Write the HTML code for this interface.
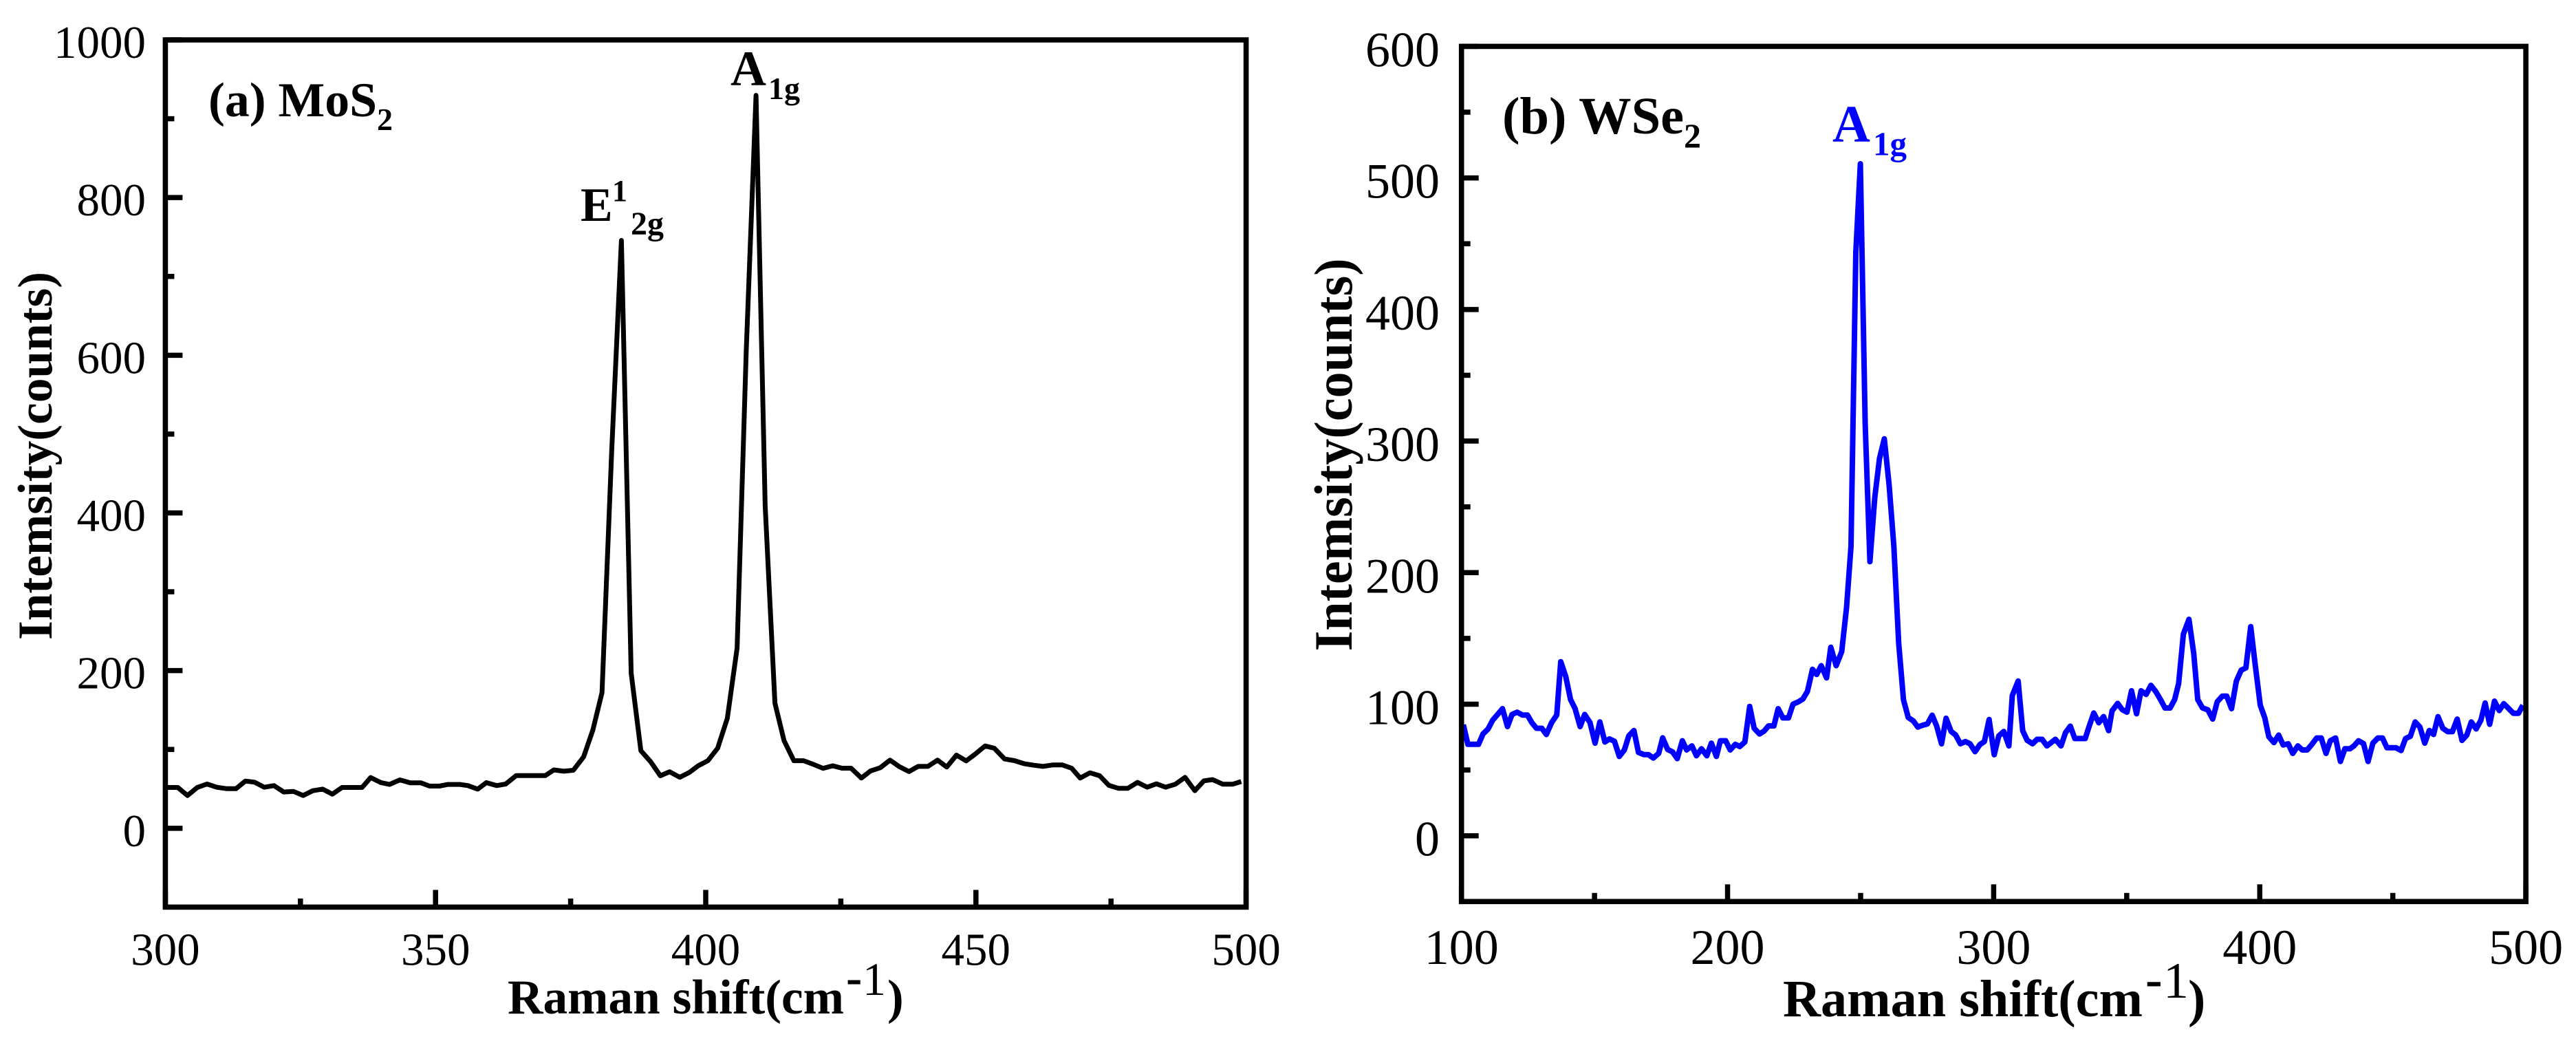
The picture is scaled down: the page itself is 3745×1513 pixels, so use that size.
<!DOCTYPE html>
<html lang="en">
<head>
<meta charset="utf-8">
<title>Raman spectra of MoS2 and WSe2</title>
<style>
html,body{margin:0;padding:0;background:#fff;width:3745px;height:1513px;overflow:hidden}
svg{display:block}
text{font-family:"Liberation Serif","Times New Roman",serif;fill:#000}
.b{font-weight:bold}
.blue{fill:#0000ff}
</style>
</head>
<body>
<svg id="figure" xmlns="http://www.w3.org/2000/svg" width="3745" height="1513" viewBox="0 0 3745 1513">
  <rect x="0" y="0" width="3745" height="1513" fill="#fff"/>
  <g id="panel-a"></g>
  <g id="panel-b"></g>

  <text class="b" font-size="71" transform="translate(75,930) rotate(-90)" textLength="535" lengthAdjust="spacingAndGlyphs">Intemsity(counts)</text>
  <text class="b" font-size="71" x="738" y="1473" textLength="489" lengthAdjust="spacingAndGlyphs">Raman shift(cm</text>
  <text class="b" font-size="70" x="1230" y="1444">-</text>
  <text font-size="68" x="1254" y="1446">1</text>
  <text class="b" font-size="71" x="1290" y="1473">)</text>

  <text class="b" font-size="71" x="303" y="169" textLength="245" lengthAdjust="spacingAndGlyphs">(a) MoS</text>
  <text class="b" font-size="46" x="548" y="189">2</text>
  <text class="b" font-size="70" x="844" y="321">E</text>
  <text class="b" font-size="44" x="890" y="292">1</text>
  <text class="b" font-size="48" x="917" y="341">2g</text>
  <text class="b" font-size="72" x="1062" y="124">A</text>
  <text class="b" font-size="46" x="1117" y="144">1g</text>

  <text class="b" font-size="78" transform="translate(1965,946.4) rotate(-90)" textLength="571" lengthAdjust="spacingAndGlyphs">Intemsity(counts)</text>
  <text class="b" font-size="76" x="2592" y="1477" textLength="523" lengthAdjust="spacingAndGlyphs">Raman shift(cm</text>
  <text class="b" font-size="74" x="3119" y="1448">-</text>
  <text font-size="74" x="3145" y="1450">1</text>
  <text class="b" font-size="76" x="3181" y="1477">)</text>

  <text class="b" font-size="76" x="2184" y="194" textLength="264" lengthAdjust="spacingAndGlyphs">(b) WSe</text>
  <text class="b" font-size="50" x="2448" y="214">2</text>
  <text class="b blue" font-size="76" x="2664" y="205.5">A</text>
  <text class="b blue" font-size="49" x="2723" y="225.5">1g</text>
</svg>
<script>
const mos2Shifts = [300.4,302.3,304.1,305.9,307.7,309.5,311.3,313.1,314.8,316.5,318.3,320.1,321.9,323.7,325.5,327.3,329.1,330.9,332.7,334.6,336.4,338.0,339.9,341.5,343.4,345.3,347.3,348.9,350.7,352.3,354.5,356.0,357.8,359.4,361.3,363.0,364.9,366.7,368.5,370.3,371.9,373.7,375.5,377.4,379.1,380.8,382.6,384.4,386.2,388.0,389.8,391.6,393.3,395.2,397.0,398.6,400.4,402.2,404.0,405.8,407.5,409.3,411.0,412.8,414.5,416.3,418.1,419.9,421.7,423.5,425.2,426.9,428.8,430.5,432.3,434.1,435.8,437.6,439.3,441.1,442.9,444.6,446.4,448.2,449.9,451.7,453.4,455.3,457.1,458.9,460.7,462.4,464.2,466.0,467.7,469.3,471.1,472.9,474.6,476.4,478.1,479.9,481.7,483.4,485.1,486.9,488.7,490.5,492.2,493.8,495.7,497.5,499.1];
const mos2Counts = [51.8,51.8,41.6,51.8,56.1,52,50.3,50.3,59.9,58.5,52,54.1,46,46.8,41.6,47.7,49.7,43.3,51.8,51.8,51.8,64.3,57.9,55.6,61.4,57.6,57.6,53.5,53.5,55.6,55.6,54.1,49.7,57.9,54.1,56.1,66.8,66.8,66.8,66.8,74,72.4,73.6,90.6,124.4,172,479,745.7,196.7,98.4,84.4,66.6,71.7,64.7,71,79.3,85.7,101.5,139.6,228.5,606,929.7,409,158.7,111,85.7,85.7,81.2,76,79.3,76.2,76.2,63.7,72.7,76.8,86.4,78.3,71.9,78.5,78.5,86.4,77.7,92.8,85.5,94.3,104.4,101.5,87.9,85.8,82,80,78.5,80.3,80.3,76.2,63.7,70.4,66.6,54.4,50.6,50.6,58.2,52.1,56.4,52.1,55.9,64.6,47.7,60.2,61.7,55.9,55.9,59.3];
const mos2XTicks = [300,350,400,450,500];
const mos2XMinorTicks = [325,375,425,475];
const mos2YTicks = [0,200,400,600,800,1000];
const mos2YMinorTicks = [100,300,500,700,900];

const wse2Shifts = [100.7,102.4,104.4,106.4,108.1,110,111.7,113.6,115.4,117.3,119,120.9,122.9,124.8,126.5,128.2,130.2,131.9,133.9,135.8,137.3,139.2,141,142.7,144.6,146.3,148.3,150.2,152,153.9,155.6,157.5,159.3,161.2,162.9,164.8,166.5,168.5,170.2,172.1,174.1,175.6,177.5,179.3,181.1,183,184.6,186.6,188.3,190.2,192.2,193.9,195.8,197.3,199.3,201,202.9,204.6,206.5,208.3,210,212,213.7,215.4,217.4,219,220.8,222.9,224.6,226.6,228.3,230,231.9,233.5,235.2,237.2,238.8,240.8,242.9,244.7,246.4,248.2,249.9,251.7,253.5,255.3,257.1,258.9,260.7,262.5,264.3,266.1,267.9,269.8,271.5,273.3,275.1,276.9,278.6,280.4,282.1,284,285.7,287.5,289.4,291.1,293,294.8,296.5,298.3,300.2,301.9,303.8,305.7,307,309.2,310.9,312.6,314.6,316.3,318.2,320,321.7,323.2,325.3,327,328.8,330.5,332.4,334.4,335.9,337.6,339.5,341.3,343.2,344.5,346.6,348.3,350.1,351.8,353.7,355.4,357.3,359.1,360.9,362.7,364.4,366.3,368,369.5,371.3,373.4,375.2,376.7,378.5,380.5,382.3,384,385.9,387.6,389.4,391.2,393,394.8,396.6,398.3,400.2,401.9,403.4,405.3,407.1,408.8,410.7,412.4,414.3,416,417.8,419.6,421.4,423.1,424.9,426.5,428.5,430.3,432,433.9,435.4,437.1,439,440.7,442.5,444.4,446.1,447.8,449.5,451.2,453.1,454.8,456.6,458.4,460.2,462,463.7,465.3,467,468.8,470.6,472.4,474.2,476,477.8,479.5,481.3,483.1,484.7,486.4,488.2,490,491.7,493.6,495.3,497.2,498.9];
const wse2Counts = [84.4,69.5,69.5,69.5,77.4,81.2,87.8,92.2,96.6,83,92.2,93.9,91.7,91.7,85.8,81.7,81.7,77,86.1,91.7,132.3,121,103.5,96.6,83,92.2,86.1,70.4,86.5,71.3,73.6,71.8,60.3,65.2,76,80,63.4,61.7,61.7,59.1,62.6,74.4,65.5,63.8,58.6,72.2,65.2,68.3,60.8,66.1,60.8,70.4,60.3,72.2,72.2,65.2,69.5,67.8,71.3,98.3,81.7,77.4,79.5,83.5,83.5,96.6,89.6,89.6,100,101.8,103.9,109.6,126.5,122.6,129.3,120,143.3,129.3,140,173.3,220,443.5,510.8,313.4,208.3,256.7,286.7,301.7,266.7,220,146.6,103.3,89.9,87.3,82.6,84,85,91.6,83.3,69.9,89.3,79.3,76.6,69.9,71.6,69.9,63.9,69.3,71.6,88.3,61.6,75.9,79.3,68.3,106.6,117.6,79.9,72.6,69.9,73.3,73.3,68.3,70.9,73.3,68.3,78.3,83.3,73.9,73.9,73.9,83.3,93.3,85.9,90.6,79.9,94.9,100.6,95.9,93.9,110.2,92.7,110.2,107.4,114.3,109.6,103.5,97.1,97.1,103.5,115.7,153.2,164.5,138.4,103.5,97.1,95.7,88.7,101.8,106.1,106.1,96.6,117.5,125.8,127.6,159,129.7,99.2,89.6,75.3,70.8,76.5,69,69.9,62.6,68.3,65.2,65.2,69.5,74.3,74.3,62.6,72.2,74.3,56.5,66.1,66.1,68.3,72.2,70.1,56.5,70.4,74.3,74.3,66.9,66.9,66.9,64.8,73.9,75.6,86.5,82.6,70.4,80,77,90.5,81.7,79.1,79.1,88.7,72.5,76.5,86.5,81.2,87.8,100.9,84.7,102.3,95.2,100.4,96.6,93.1,93.1,99.2];
const wse2XTicks = [100,200,300,400,500];
const wse2XMinorTicks = [150,250,350,450];
const wse2YTicks = [0,100,200,300,400,500,600];
const wse2YMinorTicks = [50,150,250,350,450,550];

const SVG_NS = 'http://www.w3.org/2000/svg';

function makeLinear(d0, d1, r0, r1) {
  return function (v) { return r0 + (v - d0) * (r1 - r0) / (d1 - d0); };
}

function drawTickLine(group, x1, y1, x2, y2, width) {
  const tick = document.createElementNS(SVG_NS, 'line');
  
  
  tick.setAttribute('x1', x1);
  tick.setAttribute('y1', y1);
  tick.setAttribute('x2', x2);
  tick.setAttribute('y2', y2);
  tick.setAttribute('stroke', '#000');
  tick.setAttribute('stroke-width', width);
  group.appendChild(tick);
}

function drawTickLabel(group, x, y, size, anchor, label) {
  const text = document.createElementNS(SVG_NS, 'text');
  
  
  text.setAttribute('x', x);
  text.setAttribute('y', y);
  text.setAttribute('font-size', size);
  text.setAttribute('text-anchor', anchor);
  text.textContent = label;
  group.appendChild(text);
}

function drawPanel(group, cfg, shifts, counts, xTicks, xMinor, yTicks, yMinor) {
  const sx = makeLinear(cfg.xMin, cfg.xMax, cfg.left, cfg.right);
  const sy = makeLinear(cfg.yMin, cfg.yMax, cfg.bottom, cfg.top);
  const tw = 7.5;

  yTicks.forEach(function (v) {
    drawTickLine(group, cfg.left, sy(v), cfg.left + 25, sy(v), tw);
    drawTickLabel(group, cfg.yLabelX, sy(v) + cfg.yLabelDy, cfg.fontSize, 'end', String(v));
  });
  yMinor.forEach(function (v) {
    drawTickLine(group, cfg.left, sy(v), cfg.left + 13, sy(v), tw);
  });
  xTicks.forEach(function (v) {
    drawTickLine(group, sx(v), cfg.bottom, sx(v), cfg.bottom - 25, tw);
    drawTickLabel(group, sx(v), cfg.xLabelY, cfg.fontSize, 'middle', String(v));
  });
  xMinor.forEach(function (v) {
    drawTickLine(group, sx(v), cfg.bottom, sx(v), cfg.bottom - 12.5, tw);
  });

  const line = document.createElementNS(SVG_NS, 'polyline');
  
  
  line.setAttribute('fill', 'none');
  line.setAttribute('stroke', cfg.color);
  line.setAttribute('stroke-width', cfg.lineWidth);
  line.setAttribute('stroke-linejoin', 'round');
  line.setAttribute('points', shifts.map(function (s, i) {
    return sx(s).toFixed(1) + ',' + sy(counts[i]).toFixed(1);
  }).join(' '));
  group.appendChild(line);

  const frame = document.createElementNS(SVG_NS, 'rect');
  
  
  frame.setAttribute('x', cfg.left);
  frame.setAttribute('y', cfg.top);
  frame.setAttribute('width', cfg.right - cfg.left);
  frame.setAttribute('height', cfg.bottom - cfg.top);
  frame.setAttribute('fill', 'none');
  frame.setAttribute('stroke', '#000');
  frame.setAttribute('stroke-width', '7.6');
  group.appendChild(frame);
}

drawPanel(document.getElementById('panel-a'), {
  xMin: 300, xMax: 500, yMin: -100, yMax: 1000,
  left: 240.4, right: 1811.6, top: 58, bottom: 1318.4,
  fontSize: 67, yLabelX: 212, yLabelDy: 26, xLabelY: 1402.5,
  color: '#000', lineWidth: 7, lineName: 'mos2-spectrum-line'
}, mos2Shifts, mos2Counts, mos2XTicks, mos2XMinorTicks, mos2YTicks, mos2YMinorTicks);

drawPanel(document.getElementById('panel-b'), {
  xMin: 100, xMax: 500, yMin: -50, yMax: 600,
  left: 2124.7, right: 3672.1, top: 67.4, bottom: 1310.3,
  fontSize: 72, yLabelX: 2093, yLabelDy: 29, xLabelY: 1401,
  color: '#0000ff', lineWidth: 8, lineName: 'wse2-spectrum-line'
}, wse2Shifts, wse2Counts, wse2XTicks, wse2XMinorTicks, wse2YTicks, wse2YMinorTicks);
</script>
</body>
</html>
